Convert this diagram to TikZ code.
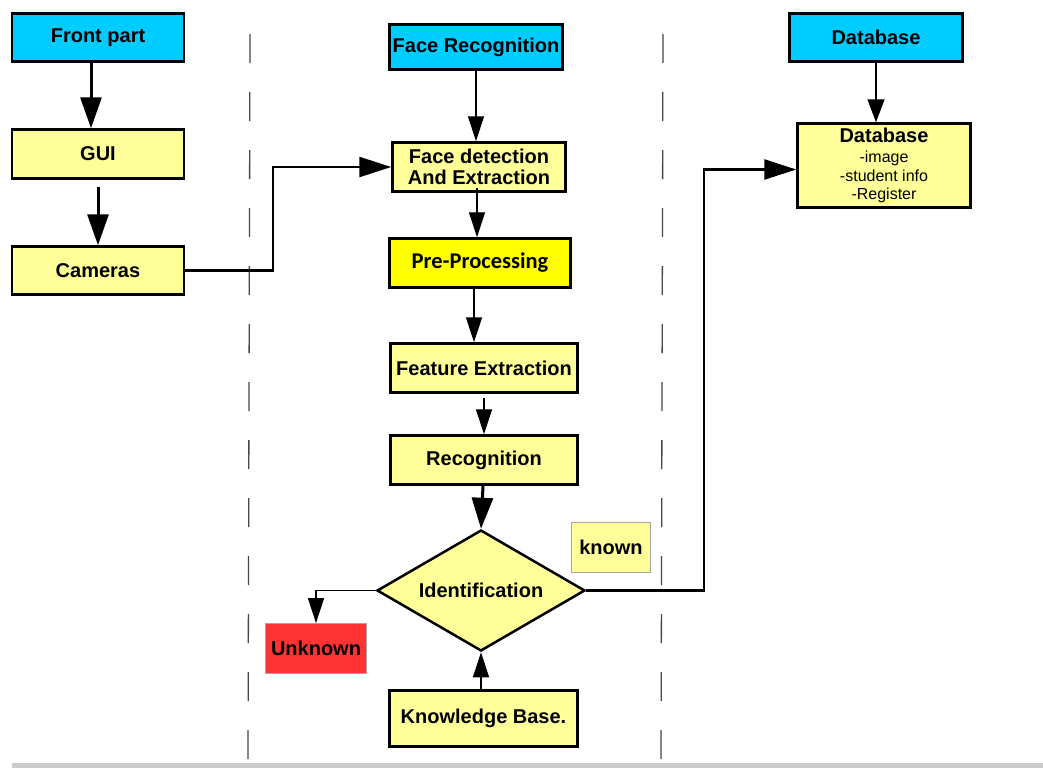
\documentclass[tikz,border=0pt]{standalone}
\usepackage{fontspec}
\setmainfont{Liberation Sans}
\newfontfamily\calibrifont{Carlito}
\usetikzlibrary{arrows.meta,shapes.geometric}
\definecolor{headcyan}{RGB}{0,204,255}
\definecolor{paleyellow}{RGB}{255,255,153}
\definecolor{brightyellow}{RGB}{255,255,0}
\definecolor{alertred}{RGB}{255,51,51}
\definecolor{sepgray}{RGB}{70,70,70}
\newcommand\dbline[1]{{\fontsize{16}{17.5}\selectfont\mdseries #1}}
\begin{document}
\begin{tikzpicture}[x=1pt,y=-1pt,
  font=\fontsize{20}{21.5}\selectfont\bfseries,
  box/.style={draw=black,line width=2.5pt,inner sep=0pt,align=center,
    minimum width=#1,fill=paleyellow},
  box/.default=172pt,
  headbox/.style={box=#1,fill=headcyan},
  headbox/.default=172pt,
  labelbox/.style={draw=gray!70,line width=0.8pt,inner sep=0pt},
  thickarrow/.style={line width=3pt,-{Triangle[width=21pt,length=31pt]}},
  midarrow/.style={line width=2.4pt,-{Triangle[width=20pt,length=32pt]}},
  thinarrow/.style={line width=1.3pt,-{Triangle[width=16pt,length=25pt]}},
  separator/.style={draw=sepgray,line width=1.3pt,dash pattern=on 29pt off 29pt}]
\useasboundingbox (0,0) rectangle (1043,768);
\fill[white] (0,0) rectangle (1043,768);

% column separators and base line
\draw[separator] (250,34) -- (248,762);
\draw[separator] (663,34) -- (661,762);
\fill[gray!40] (12,763) rectangle (1043,768);

% front part column
\node[headbox, minimum height=48pt] (front) at (98,37.5) {Front part};
\node[box, minimum height=49pt] (gui) at (98,154) {GUI};
\node[box, minimum height=48pt] (cam) at (98,270.5) {Cameras};

% face recognition column
\node[headbox=173pt, minimum height=45pt] (facerec) at (476,47) {Face Recognition};
\node[box=173pt, minimum height=49pt] (facedet) at (479,167) {Face detection\\And Extraction};
\node[box=181pt, minimum height=49pt, fill=brightyellow,
  font=\fontsize{22.5}{24}\selectfont\calibrifont\bfseries] (pre) at (480,263) {Pre-Processing};
\node[box=187pt, minimum height=49pt] (feat) at (484,368) {Feature Extraction};
\node[box=187pt, minimum height=49pt] (recog) at (484,460) {Recognition};
\node[draw=black, line width=2.5pt, fill=paleyellow, shape=diamond, aspect=1.7,
  inner sep=0pt, minimum width=208pt, minimum height=121pt] (ident) at (481,590.5) {Identification};
\node[box=188pt, minimum height=56pt] (kb) at (483.5,718.5) {Knowledge Base.};
\node[labelbox, fill=alertred, minimum width=101pt, minimum height=50pt] (unknown) at (316,648.5) {Unknown};
\node[labelbox, fill=paleyellow, minimum width=79pt, minimum height=50pt] (known) at (611,547.5) {known};

% database column
\node[headbox=173pt, minimum height=48pt] (dbhead) at (876,37.5) {Database};
\node[box=173pt, minimum height=84pt] (db) at (884,165.5)
  {Database\\[-1pt]\dbline{-image}\\[-3pt]\dbline{-student info}\\[-3pt]\dbline{-Register}};

% connectors
\draw[thickarrow] ([xshift=-7pt]front.south) -- ([xshift=-7pt]gui.north);
\draw[thickarrow] ([yshift=-7pt]gui.south) -- (cam.north);
\draw[midarrow] (cam.east) -- ++(88,0) |- (facedet.west);
\draw[thinarrow] (facerec.south) -- (facerec.south |- facedet.north);
\draw[thinarrow] ([xshift=-2pt,yshift=5pt]facedet.south) -- ([xshift=-3pt]pre.north);
\draw[line width=1.6pt,-{Triangle[width=16pt,length=25pt]}] ([xshift=-6pt]pre.south) -- ([xshift=-10pt]feat.north);
\draw[thinarrow] ([yshift=-4pt]feat.south) -- (recog.north);
\draw[thickarrow] ([xshift=-1pt]recog.south) -- (ident.north);
\draw[thinarrow] (ident.south |- kb.north) -- (ident.south);
\draw[thinarrow] (ident.west) -| (unknown.north);
\draw[midarrow] (ident.east) -- ++(118,0) |- ([yshift=-4pt]db.west);
\draw[line width=1.5pt,-{Triangle[width=17pt,length=23pt]}] (dbhead.south) -- (dbhead.south |- db.north);
\end{tikzpicture}
\end{document}
